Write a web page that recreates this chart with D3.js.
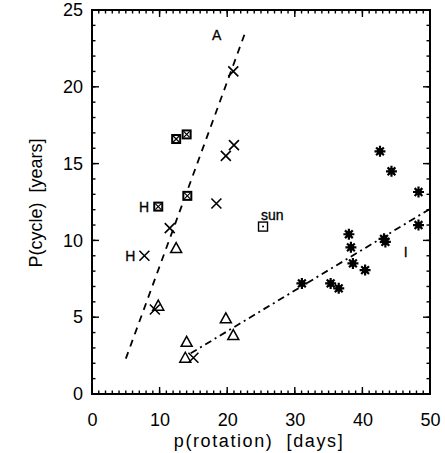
<!DOCTYPE html>
<html><head><meta charset="utf-8">
<script src="https://cdn.jsdelivr.net/npm/d3@7"></script>
<style>body{margin:0;background:#fff}svg{display:block}text{font-family:"Liberation Sans",Arial,sans-serif;fill:#000}</style>
</head><body>
<script>
const xTicks = [0,10,20,30,40,50];
const yTicks = [0,5,10,15,20,25];
const boxPts = [[12.45,16.6],[14.0,16.9],[14.1,12.9],[9.8,12.2]];
const sunPt = [[25.3,10.9]];
const crossPts = [[20.9,21.0],[21.0,16.2],[19.8,15.5],[18.4,12.4],[11.5,10.8],[7.75,9.0],[9.3,5.5],[15.0,2.36]];
const triPts = [[12.45,9.5],[9.8,5.75],[19.8,4.93],[20.9,3.84],[14.0,3.4],[13.8,2.36]];
const starPts = [[42.6,15.8],[44.3,14.5],[48.3,13.15],[48.3,11.0],[38.0,10.4],[38.3,9.55],[43.2,10.1],[43.4,9.9],[38.6,8.5],[40.4,8.07],[31.05,7.2],[35.3,7.2],[36.5,6.88]];
const textLabels = [{t:"A",x:18.45,y:23.4,a:"middle"},{t:"I",x:46.4,y:9.26,a:"middle"},{t:"H",x:9.8,y:12.2,a:"end",dx:-9},{t:"H",x:7.75,y:9.0,a:"end",dx:-9},{t:"sun",x:25.3,y:10.9,a:"start",dx:-2,dy:-12}];
const dashLine = [[5.0,2.3],[22.8,23.7]];
const dashDotLine = [[14.6,2.65],[50,12.05]];

const W=445,H=453;
const m={l:92,r:15,t:10,b:59};
const svg=d3.select("body").append("svg").attr("width",W).attr("height",H);
const x=d3.scaleLinear().domain([0,50]).range([m.l,W-m.r]);
const y=d3.scaleLinear().domain([0,25]).range([H-m.b,m.t]);

const g=svg.append("g");
g.append("rect").attr("x",x(0)).attr("y",y(25)).attr("width",x(50)-x(0)).attr("height",y(0)-y(25))
 .attr("fill","none").attr("stroke","#000").attr("stroke-width",2);
const minorX=d3.range(0,51,1), minorY=d3.range(0,26,1);
function tickLines(vals,isX,major){
  vals.forEach(v=>{
    const L = major? 7:3.5;
    if(isX){
      g.append("line").attr("x1",x(v)).attr("x2",x(v)).attr("y1",y(0)).attr("y2",y(0)-L).attr("stroke","#000").attr("stroke-width",1.4);
      g.append("line").attr("x1",x(v)).attr("x2",x(v)).attr("y1",y(25)).attr("y2",y(25)+L).attr("stroke","#000").attr("stroke-width",1.4);
    } else {
      g.append("line").attr("y1",y(v)).attr("y2",y(v)).attr("x1",x(0)).attr("x2",x(0)+L).attr("stroke","#000").attr("stroke-width",1.4);
      g.append("line").attr("y1",y(v)).attr("y2",y(v)).attr("x1",x(50)).attr("x2",x(50)-L).attr("stroke","#000").attr("stroke-width",1.4);
    }
  });
}
tickLines(minorX,true,false);tickLines(xTicks,true,true);
tickLines(minorY,false,false);tickLines(yTicks,false,true);
const xa=svg.append("g").attr("transform",`translate(0,${y(0)})`).call(d3.axisBottom(x).tickValues(xTicks).tickSize(0).tickPadding(19));
const ya=svg.append("g").attr("transform",`translate(${x(0)},0)`).call(d3.axisLeft(y).tickValues(yTicks).tickSize(0).tickPadding(9));
[xa,ya].forEach(a=>{a.select(".domain").remove();a.selectAll("text").attr("font-size",18).attr("font-family","Liberation Sans, Arial, sans-serif");});
svg.append("text").attr("x",259).attr("y",447).attr("text-anchor","middle").attr("font-size",18)
  .attr("letter-spacing","1.6px").style("white-space","pre").text("p(rotation)  [days]");
svg.append("text").attr("transform",`translate(42,${(y(0)+y(25))/2+1}) rotate(-90)`).attr("text-anchor","middle").attr("font-size",18)
  .style("white-space","pre").text("P(cycle)  [years]");

const line=d3.line().x(d=>x(d[0])).y(d=>y(d[1]));
g.append("path").attr("d",line(dashLine)).attr("fill","none").attr("stroke","#000").attr("stroke-width",1.8).attr("stroke-dasharray","7,6");
g.append("path").attr("d",line(dashDotLine)).attr("fill","none").attr("stroke","#000").attr("stroke-width",1.8).attr("stroke-dasharray","7,4,2,4");

const s=5;
crossPts.forEach(p=>{
  const cx=x(p[0]),cy=y(p[1]);
  g.append("path").attr("d",`M${cx-s},${cy-s}L${cx+s},${cy+s}M${cx-s},${cy+s}L${cx+s},${cy-s}`).attr("stroke","#000").attr("stroke-width",1.6);
});
triPts.forEach(p=>{
  const cx=x(p[0]),cy=y(p[1]);
  g.append("path").attr("d",`M${cx},${cy-5.5}L${cx+5.5},${cy+4.5}L${cx-5.5},${cy+4.5}Z`).attr("fill","none").attr("stroke","#000").attr("stroke-width",1.5);
});
boxPts.forEach(p=>{
  const cx=x(p[0]),cy=y(p[1]);
  g.append("rect").attr("x",cx-5).attr("y",cy-5).attr("width",10).attr("height",10).attr("fill","#000");
  g.append("rect").attr("x",cx-3).attr("y",cy-3).attr("width",6).attr("height",6).attr("fill","#fff");
  g.append("path").attr("d",`M${cx-3},${cy-3}L${cx+3},${cy+3}M${cx-3},${cy+3}L${cx+3},${cy-3}`).attr("stroke","#000").attr("stroke-width",1.2);
});
sunPt.forEach(p=>{
  const cx=x(p[0]),cy=y(p[1]);
  g.append("rect").attr("x",cx-4.5).attr("y",cy-4.5).attr("width",9).attr("height",9).attr("fill","none").attr("stroke","#000").attr("stroke-width",1.4);
  g.append("circle").attr("cx",cx).attr("cy",cy).attr("r",1).attr("fill","#000");
});
starPts.forEach(p=>{
  const cx=x(p[0]),cy=y(p[1]);
  let d="";
  for(let k=0;k<8;k++){const a=k*Math.PI/4;d+=`M${cx},${cy}L${cx+5.5*Math.cos(a)},${cy+5.5*Math.sin(a)}`;}
  g.append("path").attr("d",d).attr("stroke","#000").attr("stroke-width",2.2);
  g.append("rect").attr("x",cx-3).attr("y",cy-3).attr("width",6).attr("height",6).attr("fill","#000");
});
textLabels.forEach(l=>{
  g.append("text").attr("x",x(l.x)+(l.dx||0)).attr("y",y(l.y)+(l.dy||0)).attr("dy","0.36em").attr("text-anchor",l.a)
   .attr("font-size",14).attr("stroke","#000").attr("stroke-width",0.3).text(l.t);
});
</script>
</body></html>
